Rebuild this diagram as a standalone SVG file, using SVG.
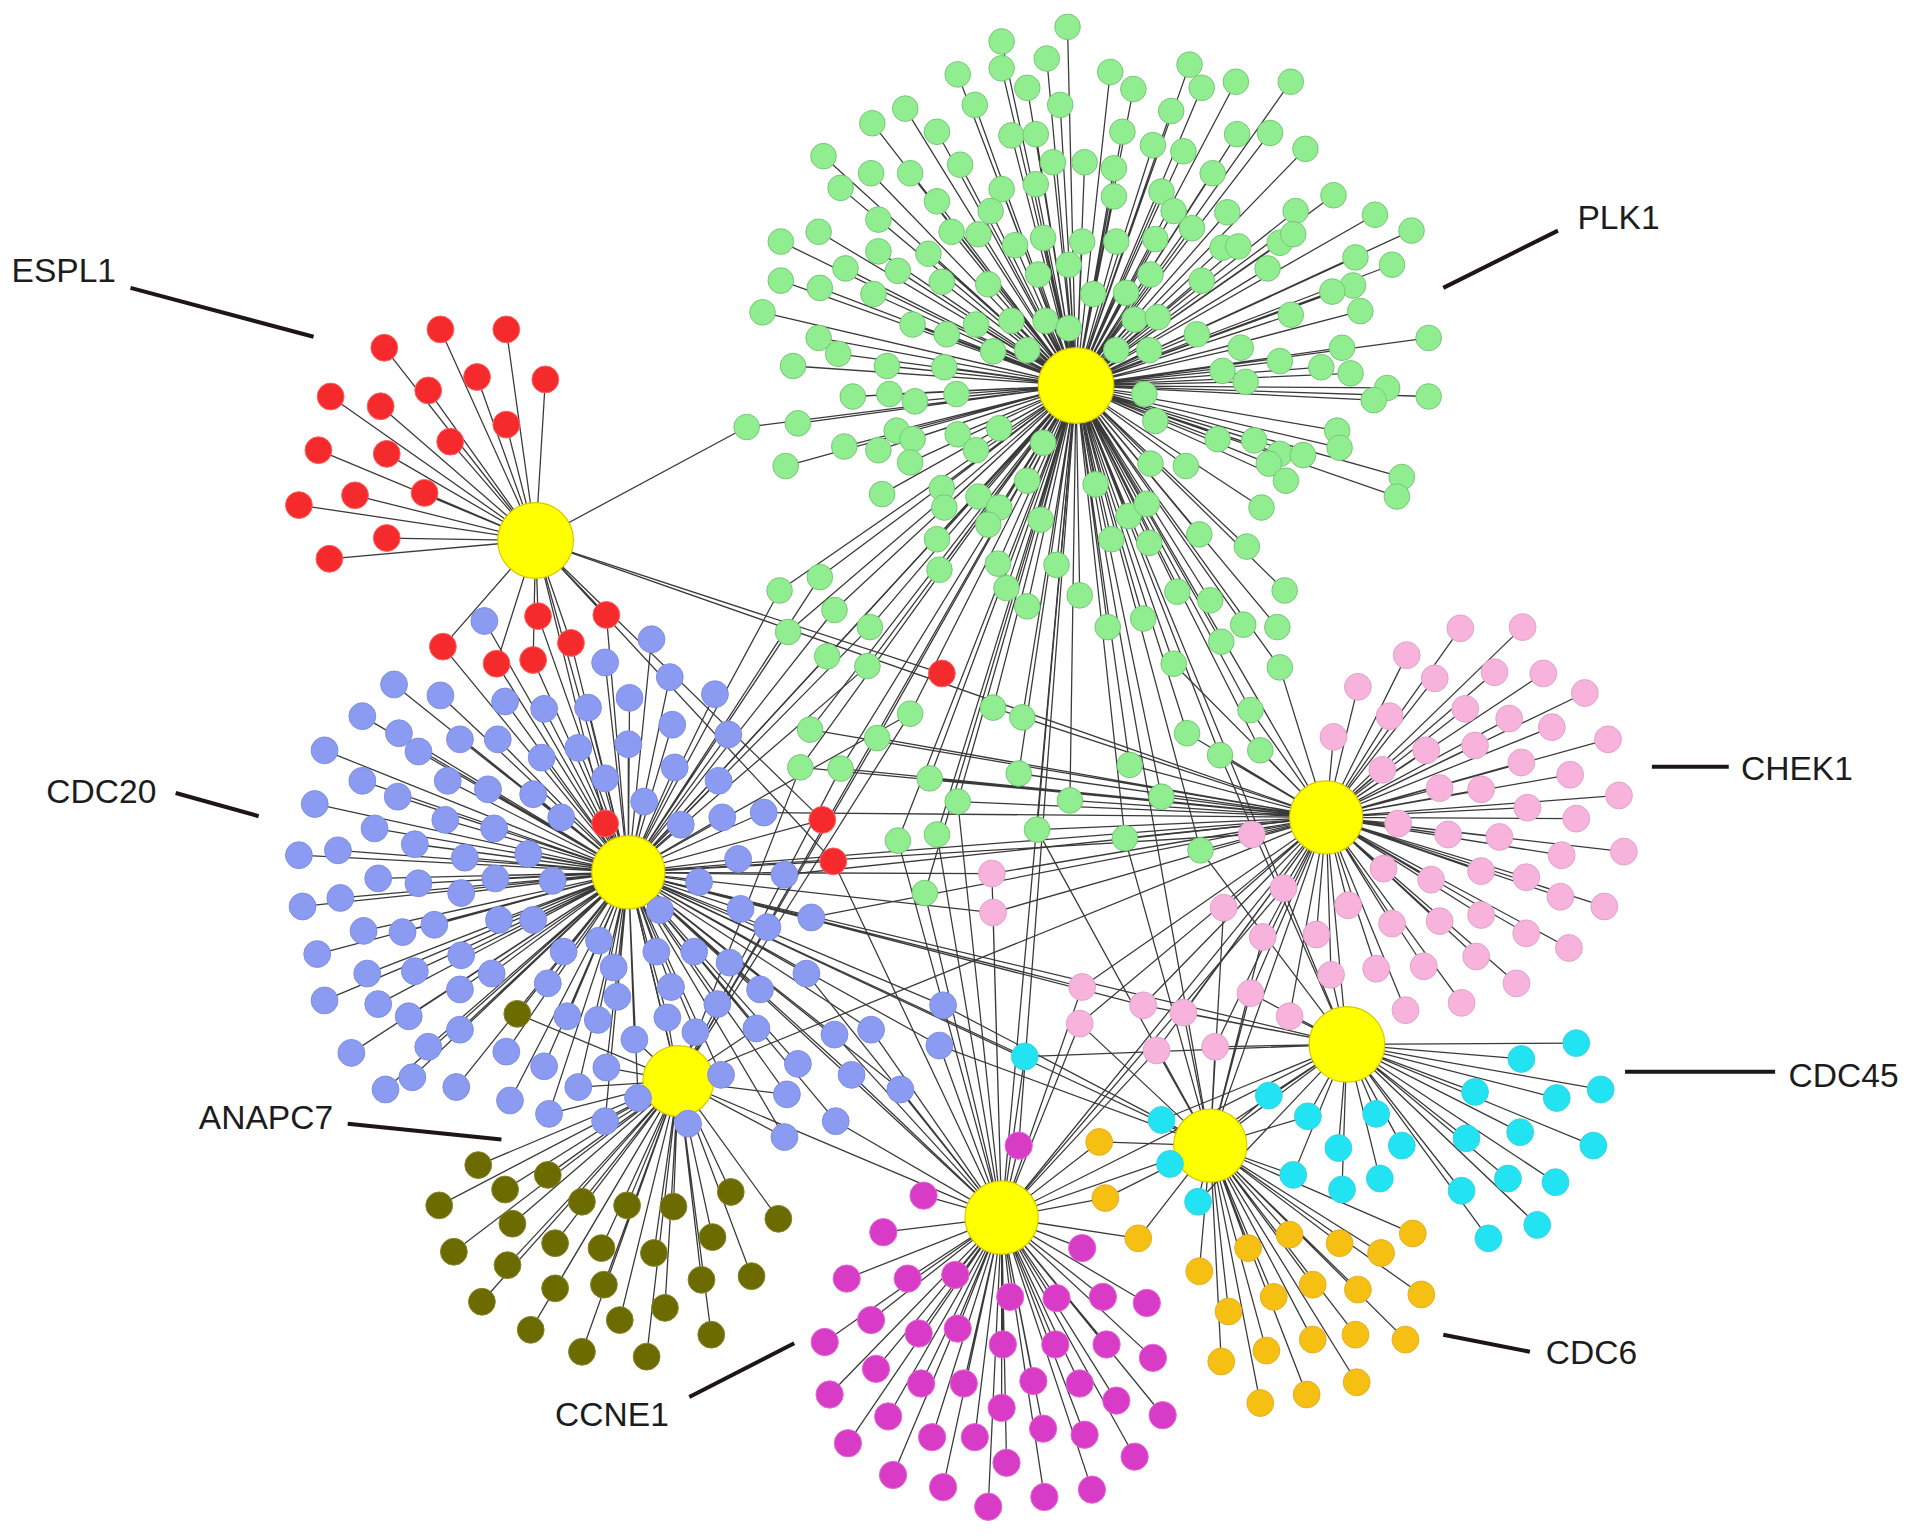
<svg xmlns="http://www.w3.org/2000/svg" width="1913" height="1536" viewBox="0 0 1913 1536">
<style>
.e{stroke:#3a3a3a;stroke-width:1.05;fill:none}
.h circle{fill:#ffff00;stroke:#d9c800;stroke-width:1}
.gr circle{fill:#90ee90;stroke:#76c476;stroke-width:.8;r:10.5px}
.rd circle{fill:#f42a2c;stroke:#ff6060;stroke-width:.8;r:11px}
.bl circle{fill:#8a9bf1;stroke:#7d8ee2;stroke-width:.8;r:11px}
.pk circle{fill:#f7b3dc;stroke:#dda3c9;stroke-width:.8;r:11px}
.ol circle{fill:#6b6b00;stroke:#858530;stroke-width:.8;r:11px}
.cy circle{fill:#21e3f2;stroke:#40d0e0;stroke-width:.8;r:11px}
.mg circle{fill:#d83bc6;stroke:#e26ad6;stroke-width:.8;r:11.2px}
.or circle{fill:#f6c013;stroke:#e2ae2c;stroke-width:.8;r:11px}
.lb{stroke:#1e1515;stroke-width:3.3;fill:none}
.t{font-family:"Liberation Sans",Arial,Helvetica,sans-serif;font-size:27.5px;fill:#1c1c1c}
</style>
<rect width="1913" height="1536" fill="#ffffff"/>
<g transform="scale(1.22002)">
<g id="connectors" class="e">
<path id="e-plk1" d="M875 22L882 316M821 34L882 316M858 48L882 316M821 56L882 316M785 61L882 316M910 59L882 316M975 53L882 316M985 72L882 316M1013 67L882 316M1058 67L882 316M842 72L882 316M929 73L882 316M742 89L882 316M799 86L882 316M869 86L882 316M715 101L882 316M960 91L882 316M768 108L882 316M829 111L882 316M849 110L882 316M920 108L882 316M1014 110L882 316M1041 109L882 316M945 119L882 316M970 124L882 316M1070 122L882 316M675 128L882 316M714 142L882 316M746 142L882 316M787 135L882 316M863 133L882 316M889 133L882 316M913 138L882 316M994 142L882 316M689 154L882 316M821 155L882 316M849 151L882 316M913 161L882 316M952 157L882 316M768 165L882 316M812 173L882 316M962 173L882 316M1062 173L882 316M1093 160L882 316M1006 174L882 316M720 180L882 316M640 198L882 316M671 190L882 316M780 190L882 316M802 192L882 316M832 201L882 316M855 195L882 316M887 198L882 316M915 198L882 316M947 196L882 316M977 187L882 316M1002 203L882 316M1015 202L882 316M1049 199L882 316M1060 192L882 316M1127 176L882 316M1157 189L882 316M720 206L882 316M693 220L882 316M761 208L882 316M736 222L882 316M640 230L882 316M672 236L882 316M716 241L882 316M772 231L882 316M810 233L882 316M851 225L882 316M876 217L882 316M896 241L882 316M923 240L882 316M943 225L882 316M985 230L882 316M1039 220L882 316M1111 211L882 316M1141 217L882 316M1109 234L882 316M1092 239L882 316M625 256L882 316M748 266L882 316M776 274L882 316M800 266L882 316M829 263L882 316M857 263L882 316M876 269L882 316M930 262L882 316M949 260L882 316M981 274L882 316M1058 258L882 316M1115 255L882 316M1171 277L882 316M671 277L882 316M687 290L882 316M727 300L882 316M774 301L882 316M814 288L882 316M842 287L882 316M915 287L882 316M942 287L882 316M1017 285L882 316M1100 285L882 316M1049 296L882 316M1083 301L882 316M1107 306L882 316M1002 304L882 316M1021 313L882 316M650 300L882 316M699 325L882 316M729 323L882 316M750 329L882 316M784 323L882 316M938 323L882 316M1137 318L882 316M1171 325L882 316M1126 328L882 316M612 350L882 316M654 347L882 316M692 366L882 316M720 369L882 316M735 353L882 316M748 360L882 316M746 379L882 316M785 356L882 316M800 369L882 316M819 351L882 316M855 363L882 316M947 345L882 316M998 360L882 316M1028 361L882 316M1049 372L882 316M1068 373L882 316M1040 380L882 316M1096 353L882 316M1098 367L882 316M644 382L882 316M723 405L882 316M772 400L882 316M802 407L882 316M819 416L882 316M842 394L882 316M898 397L882 316M943 380L882 316M972 382L882 316M1054 394L882 316M1149 391L882 316M1145 407L882 316M1034 416L882 316M774 416L882 316M853 426L882 316M810 430L882 316M768 442L882 316M925 423L882 316M940 413L882 316M983 438L882 316M1022 448L882 316M911 442L882 316M942 445L882 316M672 473L882 316M639 484L882 316M770 467L882 316M684 500L882 316M713 514L882 316M646 518L882 316M678 538L882 316M711 546L882 316M825 482L882 316M842 497L882 316M885 488L882 316M818 462L882 316M866 463L882 316M908 514L882 316M937 507L882 316M965 485L882 316M992 492L882 316M1019 512L882 316M1001 526L882 316M962 544L882 316M1047 514L882 316M1049 547L882 316M1025 582L882 316M973 601L882 316M1000 619L882 316M1033 615L882 316M746 585L882 316M814 580L882 316M838 588L882 316M664 598L882 316M719 605L882 316M656 629L882 316M689 630L882 316M762 638L882 316M835 634L882 316M926 627L882 316M785 657L882 316M877 656L882 316M952 653L882 316M736 689L882 316M768 684L882 316M850 680L882 316M922 687L882 316M984 697L882 316M758 732L882 316M1053 484L882 316"/>
<path id="e-green-cross" d="M1025 582L1087 670M973 601L1087 670M1000 619L1087 670M1033 615L1087 670M926 627L1087 670M952 653L1087 670M922 687L1087 670M984 697L1087 670M877 656L1087 670M850 680L1087 670M835 634L1087 670M838 588L1087 670M814 580L1087 670M762 638L1087 670M785 657L1087 670M656 629L1087 670M689 630L1087 670M664 598L1087 670M719 605L1087 670M1049 547L1087 670M962 544L1087 670M639 484L515 715M646 518L515 715M678 538L515 715M711 546L515 715M672 473L515 715M684 500L515 715M713 514L515 715M746 585L515 715M758 732L821 998M736 689L821 998M768 684L821 998M785 657L821 998M656 629L556 886M689 630L556 886M719 605L556 886M746 585L556 886M850 680L992 939M922 687L992 939M984 697L1104 856M1000 619L1104 856"/>
<path id="e-chek1" d="M1197 515L1087 670M1248 514L1087 670M1153 537L1087 670M1113 563L1087 670M1176 556L1087 670M1225 551L1087 670M1265 552L1087 670M1299 568L1087 670M1093 604L1087 670M1139 587L1087 670M1201 581L1087 670M1237 589L1087 670M1272 596L1087 670M1318 606L1087 670M1169 615L1087 670M1209 611L1087 670M1247 625L1087 670M1287 635L1087 670M1133 631L1087 670M1180 646L1087 670M1214 647L1087 670M1252 662L1087 670M1292 671L1087 670M1327 652L1087 670M1146 675L1087 670M1187 684L1087 670M1229 686L1087 670M1280 701L1087 670M1331 698L1087 670M1026 684L1087 670M1134 712L1087 670M1173 721L1087 670M1214 714L1087 670M1251 719L1087 670M1279 735L1087 670M1315 743L1087 670M1052 728L1087 670M1105 742L1087 670M1141 757L1087 670M1180 755L1087 670M1214 750L1087 670M1251 765L1087 670M1286 777L1087 670M1003 744L1087 670M1035 768L1087 670M1079 766L1087 670M1128 794L1087 670M1167 792L1087 670M1210 784L1087 670M1243 806L1087 670M1025 814L1087 670M1091 799L1087 670M1152 828L1087 670M1198 822L1087 670M1057 833L1087 670M813 716L1087 670M814 748L1087 670M887 809L1087 670M885 839L1087 670M937 824L1087 670M970 830L1087 670M948 861L1087 670M996 858L1087 670"/>
<path id="e-pink-cross" d="M813 716L515 715M813 716L821 998M814 748L515 715M814 748L821 998M887 809L821 998M887 809L515 715M885 839L821 998M885 839L992 939M937 824L515 715M937 824L1104 856M970 830L992 939M970 830L1104 856M948 861L992 939M948 861L821 998M996 858L1104 856M996 858L992 939M1003 744L992 939M1035 768L992 939M1025 814L1104 856M1025 814L992 939M1057 833L1104 856M1091 799L1104 856M1026 684L515 715M1052 728L821 998"/>
<path id="e-cdc20" d="M397 509L515 715M534 524L515 715M496 543L515 715M549 555L515 715M323 561L515 715M361 570L515 715M414 575L515 715M446 581L515 715M482 580L515 715M516 572L515 715M586 569L515 715M297 587L515 715M327 601L515 715M377 606L515 715M408 606L515 715M444 621L515 715M474 613L515 715M515 610L515 715M551 594L515 715M597 602L515 715M266 615L515 715M343 616L515 715M297 640L515 715M367 640L515 715M400 647L515 715M437 651L515 715M496 638L515 715M553 629L515 715M589 640L515 715M258 659L515 715M326 653L515 715M365 672L515 715M405 679L515 715M460 670L515 715M528 657L515 715M558 676L515 715M592 670L515 715M626 666L515 715M307 679L515 715M340 692L515 715M245 701L515 715M277 697L515 715M381 703L515 715M433 700L515 715M605 704L515 715M310 720L515 715M343 724L515 715M406 720L515 715M453 722L515 715M573 723L515 715M643 717L515 715M378 732L515 715M248 743L515 715M279 736L515 715M409 754L515 715M437 754L515 715M541 746L515 715M607 745L515 715M629 760L515 715M665 752L515 715M298 763L515 715M330 764L515 715M356 758L515 715M260 782L515 715M378 783L515 715M491 771L515 715M538 780L515 715M569 780L515 715M598 789L515 715M462 780L515 715M301 798L515 715M340 796L515 715M403 798L515 715M503 793L515 715M661 798L515 715M266 820L515 715M310 823L515 715M377 811L515 715M449 806L515 715M506 817L515 715M550 809L515 715M588 823L515 715M623 811L515 715M335 833L515 715M465 833L515 715M490 836L515 715M547 834L515 715M288 863L515 715M351 858L515 715M377 844L515 715M415 862L515 715M520 852L515 715M570 846L515 715M620 843L515 715M316 893L515 715M338 883L515 715M374 891L515 715M418 902L515 715M446 874L515 715M474 891L515 715M497 875L515 715M523 900L515 715M591 881L515 715M654 872L515 715M450 913L515 715M496 919L515 715M564 921L515 715M645 897L515 715M643 932L515 715M684 848L515 715M714 844L515 715M770 857L515 715M773 824L515 715M698 881L515 715M738 893L515 715M685 919L515 715"/>
<path id="e-blue-cross" d="M520 852L556 886M570 846L556 886M591 881L556 886M523 900L556 886M564 921L556 886M496 919L556 886M497 875L556 886M474 891L556 886M547 834L556 886M620 843L556 886M645 897L556 886M643 932L556 886M450 913L556 886M684 848L821 998M714 844L821 998M770 857L821 998M770 857L992 939M773 824L992 939M698 881L821 998M738 893L821 998M685 919L821 998M661 798L821 998M665 752L1087 670M643 717L1087 670M626 666L1087 670"/>
<path id="e-espl1" d="M361 270L439 443M415 270L439 443M315 285L439 443M447 311L439 443M271 325L439 443M312 333L439 443M351 320L439 443M391 309L439 443M415 348L439 443M369 362L439 443M261 369L439 443M317 372L439 443M291 406L439 443M348 404L439 443M245 414L439 443M317 441L439 443M270 458L439 443M363 530L439 443M441 505L439 443M497 504L439 443M468 527L439 443M407 544L439 443M437 541L439 443M772 552L439 443M496 675L439 443M674 672L439 443M683 706L439 443M612 350L439 443"/>
<path id="e-red-cross" d="M363 530L515 715M441 505L515 715M497 504L515 715M468 527L515 715M407 544L515 715M437 541L515 715M674 672L515 715M683 706L515 715M683 706L821 998M496 675L515 715"/>
<path id="e-anapc7" d="M424 831L556 886M392 955L556 886M449 963L556 886M414 975L556 886M360 988L556 886M477 985L556 886M514 988L556 886M552 989L556 886M599 977L556 886M638 999L556 886M420 1003L556 886M372 1026L556 886M455 1019L556 886M493 1023L556 886M536 1027L556 886M584 1014L556 886M416 1037L556 886M616 1046L556 886M455 1056L556 886M495 1053L556 886M575 1049L556 886M395 1067L556 886M508 1082L556 886M545 1072L556 886M435 1090L556 886M477 1108L556 886M530 1112L556 886M583 1094L556 886M424 831L515 715"/>
<path id="e-ccne1" d="M835 939L821 998M757 980L821 998M724 1010L821 998M887 1023L821 998M694 1048L821 998M744 1048L821 998M783 1045L821 998M828 1063L821 998M866 1064L821 998M904 1063L821 998M940 1068L821 998M714 1082L821 998M676 1100L821 998M753 1093L821 998M785 1089L821 998M822 1102L821 998M865 1102L821 998M907 1102L821 998M945 1113L821 998M718 1122L821 998M680 1143L821 998M755 1134L821 998M790 1134L821 998M847 1132L821 998M885 1134L821 998M915 1148L821 998M821 1154L821 998M953 1160L821 998M728 1161L821 998M695 1183L821 998M764 1178L821 998M799 1178L821 998M855 1171L821 998M889 1176L821 998M930 1194L821 998M825 1199L821 998M732 1209L821 998M773 1219L821 998M810 1235L821 998M856 1227L821 998M895 1221L821 998M835 939L882 316"/>
<path id="e-cdc6" d="M901 936L992 939M906 982L992 939M933 1015L992 939M983 1042L992 939M1023 1023L992 939M1057 1012L992 939M1098 1019L992 939M1132 1027L992 939M1158 1011L992 939M1165 1061L992 939M1113 1057L992 939M1076 1053L992 939M1044 1063L992 939M1007 1075L992 939M1001 1116L992 939M1038 1107L992 939M1076 1098L992 939M1111 1094L992 939M1152 1098L992 939M1033 1150L992 939M1071 1143L992 939M1112 1133L992 939M901 936L821 998M906 982L821 998M933 1015L821 998"/>
<path id="e-cdc45" d="M1292 855L1104 856M1247 868L1104 856M1312 893L1104 856M1209 895L1104 856M1276 900L1104 856M1246 928L1104 856M1202 933L1104 856M1306 939L1104 856M1040 898L1104 856M1072 915L1104 856M1128 913L1104 856M1097 941L1104 856M1149 939L1104 856M1236 966L1104 856M1275 969L1104 856M1198 976L1104 856M1060 963L1104 856M1100 975L1104 856M1131 966L1104 856M1260 1004L1104 856M1220 1015L1104 856M982 985L1104 856M959 954L1104 856M952 918L1104 856M840 866L1104 856M982 985L992 939M959 954L992 939M952 918L992 939M1040 898L992 939M1060 963L992 939M1072 915L992 939M840 866L821 998M840 866L515 715"/>
<path id="e-hubs" d="M882 316L515 715M882 316L1087 670M882 316L821 998M882 316L992 939M882 316L1104 856M882 316L556 886M515 715L1087 670M515 715L821 998M515 715L556 886M515 715L992 939M515 715L1104 856M1087 670L1104 856M1087 670L992 939M1087 670L821 998M821 998L992 939M992 939L1104 856M821 998L1104 856M556 886L821 998M439 443L515 715M439 443L1087 670M556 886L1087 670"/>
</g>
<g id="hubs" class="h">
<g id="PLK1-node"><circle cx="882" cy="316" r="31"/></g>
<g id="ESPL1-node"><circle cx="439" cy="443" r="31"/></g>
<g id="CDC20-node"><circle cx="515" cy="715" r="30"/></g>
<g id="CHEK1-node"><circle cx="1087" cy="670" r="30"/></g>
<g id="CDC45-node"><circle cx="1104" cy="856" r="31"/></g>
<g id="ANAPC7-node"><circle cx="556" cy="886" r="29"/></g>
<g id="CCNE1-node"><circle cx="821" cy="998" r="30"/></g>
<g id="CDC6-node"><circle cx="992" cy="939" r="30"/></g>
</g>
<g id="green-nodes" class="gr">
<g id="g1"><circle cx="875" cy="22" r="10.5"/></g><g id="g2"><circle cx="821" cy="34" r="10.5"/></g><g id="g3"><circle cx="858" cy="48" r="10.5"/></g><g id="g4"><circle cx="821" cy="56" r="10.5"/></g><g id="g5"><circle cx="785" cy="61" r="10.5"/></g><g id="g6"><circle cx="910" cy="59" r="10.5"/></g><g id="g7"><circle cx="975" cy="53" r="10.5"/></g><g id="g8"><circle cx="985" cy="72" r="10.5"/></g><g id="g9"><circle cx="1013" cy="67" r="10.5"/></g><g id="g10"><circle cx="1058" cy="67" r="10.5"/></g>
<g id="g11"><circle cx="842" cy="72" r="10.5"/></g><g id="g12"><circle cx="929" cy="73" r="10.5"/></g><g id="g13"><circle cx="742" cy="89" r="10.5"/></g><g id="g14"><circle cx="799" cy="86" r="10.5"/></g><g id="g15"><circle cx="869" cy="86" r="10.5"/></g><g id="g16"><circle cx="715" cy="101" r="10.5"/></g><g id="g17"><circle cx="960" cy="91" r="10.5"/></g><g id="g18"><circle cx="768" cy="108" r="10.5"/></g><g id="g19"><circle cx="829" cy="111" r="10.5"/></g><g id="g20"><circle cx="849" cy="110" r="10.5"/></g>
<g id="g21"><circle cx="920" cy="108" r="10.5"/></g><g id="g22"><circle cx="1014" cy="110" r="10.5"/></g><g id="g23"><circle cx="1041" cy="109" r="10.5"/></g><g id="g24"><circle cx="945" cy="119" r="10.5"/></g><g id="g25"><circle cx="970" cy="124" r="10.5"/></g><g id="g26"><circle cx="1070" cy="122" r="10.5"/></g><g id="g27"><circle cx="675" cy="128" r="10.5"/></g><g id="g28"><circle cx="714" cy="142" r="10.5"/></g><g id="g29"><circle cx="746" cy="142" r="10.5"/></g><g id="g30"><circle cx="787" cy="135" r="10.5"/></g>
<g id="g31"><circle cx="863" cy="133" r="10.5"/></g><g id="g32"><circle cx="889" cy="133" r="10.5"/></g><g id="g33"><circle cx="913" cy="138" r="10.5"/></g><g id="g34"><circle cx="994" cy="142" r="10.5"/></g><g id="g35"><circle cx="689" cy="154" r="10.5"/></g><g id="g36"><circle cx="821" cy="155" r="10.5"/></g><g id="g37"><circle cx="849" cy="151" r="10.5"/></g><g id="g38"><circle cx="913" cy="161" r="10.5"/></g><g id="g39"><circle cx="952" cy="157" r="10.5"/></g><g id="g40"><circle cx="768" cy="165" r="10.5"/></g>
<g id="g41"><circle cx="812" cy="173" r="10.5"/></g><g id="g42"><circle cx="962" cy="173" r="10.5"/></g><g id="g43"><circle cx="1062" cy="173" r="10.5"/></g><g id="g44"><circle cx="1093" cy="160" r="10.5"/></g><g id="g45"><circle cx="1006" cy="174" r="10.5"/></g><g id="g46"><circle cx="720" cy="180" r="10.5"/></g><g id="g47"><circle cx="640" cy="198" r="10.5"/></g><g id="g48"><circle cx="671" cy="190" r="10.5"/></g><g id="g49"><circle cx="780" cy="190" r="10.5"/></g><g id="g50"><circle cx="802" cy="192" r="10.5"/></g>
<g id="g51"><circle cx="832" cy="201" r="10.5"/></g><g id="g52"><circle cx="855" cy="195" r="10.5"/></g><g id="g53"><circle cx="887" cy="198" r="10.5"/></g><g id="g54"><circle cx="915" cy="198" r="10.5"/></g><g id="g55"><circle cx="947" cy="196" r="10.5"/></g><g id="g56"><circle cx="977" cy="187" r="10.5"/></g><g id="g57"><circle cx="1002" cy="203" r="10.5"/></g><g id="g58"><circle cx="1015" cy="202" r="10.5"/></g><g id="g59"><circle cx="1049" cy="199" r="10.5"/></g><g id="g60"><circle cx="1060" cy="192" r="10.5"/></g>
<g id="g61"><circle cx="1127" cy="176" r="10.5"/></g><g id="g62"><circle cx="1157" cy="189" r="10.5"/></g><g id="g63"><circle cx="720" cy="206" r="10.5"/></g><g id="g64"><circle cx="693" cy="220" r="10.5"/></g><g id="g65"><circle cx="761" cy="208" r="10.5"/></g><g id="g66"><circle cx="736" cy="222" r="10.5"/></g><g id="g67"><circle cx="640" cy="230" r="10.5"/></g><g id="g68"><circle cx="672" cy="236" r="10.5"/></g><g id="g69"><circle cx="716" cy="241" r="10.5"/></g><g id="g70"><circle cx="772" cy="231" r="10.5"/></g>
<g id="g71"><circle cx="810" cy="233" r="10.5"/></g><g id="g72"><circle cx="851" cy="225" r="10.5"/></g><g id="g73"><circle cx="876" cy="217" r="10.5"/></g><g id="g74"><circle cx="896" cy="241" r="10.5"/></g><g id="g75"><circle cx="923" cy="240" r="10.5"/></g><g id="g76"><circle cx="943" cy="225" r="10.5"/></g><g id="g77"><circle cx="985" cy="230" r="10.5"/></g><g id="g78"><circle cx="1039" cy="220" r="10.5"/></g><g id="g79"><circle cx="1111" cy="211" r="10.5"/></g><g id="g80"><circle cx="1141" cy="217" r="10.5"/></g>
<g id="g81"><circle cx="1109" cy="234" r="10.5"/></g><g id="g82"><circle cx="1092" cy="239" r="10.5"/></g><g id="g83"><circle cx="625" cy="256" r="10.5"/></g><g id="g84"><circle cx="748" cy="266" r="10.5"/></g><g id="g85"><circle cx="776" cy="274" r="10.5"/></g><g id="g86"><circle cx="800" cy="266" r="10.5"/></g><g id="g87"><circle cx="829" cy="263" r="10.5"/></g><g id="g88"><circle cx="857" cy="263" r="10.5"/></g><g id="g89"><circle cx="876" cy="269" r="10.5"/></g><g id="g90"><circle cx="930" cy="262" r="10.5"/></g>
<g id="g91"><circle cx="949" cy="260" r="10.5"/></g><g id="g92"><circle cx="981" cy="274" r="10.5"/></g><g id="g93"><circle cx="1058" cy="258" r="10.5"/></g><g id="g94"><circle cx="1115" cy="255" r="10.5"/></g><g id="g95"><circle cx="1171" cy="277" r="10.5"/></g><g id="g96"><circle cx="671" cy="277" r="10.5"/></g><g id="g97"><circle cx="687" cy="290" r="10.5"/></g><g id="g98"><circle cx="727" cy="300" r="10.5"/></g><g id="g99"><circle cx="774" cy="301" r="10.5"/></g><g id="g100"><circle cx="814" cy="288" r="10.5"/></g>
<g id="g101"><circle cx="842" cy="287" r="10.5"/></g><g id="g102"><circle cx="915" cy="287" r="10.5"/></g><g id="g103"><circle cx="942" cy="287" r="10.5"/></g><g id="g104"><circle cx="1017" cy="285" r="10.5"/></g><g id="g105"><circle cx="1100" cy="285" r="10.5"/></g><g id="g106"><circle cx="1049" cy="296" r="10.5"/></g><g id="g107"><circle cx="1083" cy="301" r="10.5"/></g><g id="g108"><circle cx="1107" cy="306" r="10.5"/></g><g id="g109"><circle cx="1002" cy="304" r="10.5"/></g><g id="g110"><circle cx="1021" cy="313" r="10.5"/></g>
<g id="g111"><circle cx="650" cy="300" r="10.5"/></g><g id="g112"><circle cx="699" cy="325" r="10.5"/></g><g id="g113"><circle cx="729" cy="323" r="10.5"/></g><g id="g114"><circle cx="750" cy="329" r="10.5"/></g><g id="g115"><circle cx="784" cy="323" r="10.5"/></g><g id="g116"><circle cx="938" cy="323" r="10.5"/></g><g id="g117"><circle cx="1137" cy="318" r="10.5"/></g><g id="g118"><circle cx="1171" cy="325" r="10.5"/></g><g id="g119"><circle cx="1126" cy="328" r="10.5"/></g><g id="g120"><circle cx="612" cy="350" r="10.5"/></g>
<g id="g121"><circle cx="654" cy="347" r="10.5"/></g><g id="g122"><circle cx="692" cy="366" r="10.5"/></g><g id="g123"><circle cx="720" cy="369" r="10.5"/></g><g id="g124"><circle cx="735" cy="353" r="10.5"/></g><g id="g125"><circle cx="748" cy="360" r="10.5"/></g><g id="g126"><circle cx="746" cy="379" r="10.5"/></g><g id="g127"><circle cx="785" cy="356" r="10.5"/></g><g id="g128"><circle cx="800" cy="369" r="10.5"/></g><g id="g129"><circle cx="819" cy="351" r="10.5"/></g><g id="g130"><circle cx="855" cy="363" r="10.5"/></g>
<g id="g131"><circle cx="947" cy="345" r="10.5"/></g><g id="g132"><circle cx="998" cy="360" r="10.5"/></g><g id="g133"><circle cx="1028" cy="361" r="10.5"/></g><g id="g134"><circle cx="1049" cy="372" r="10.5"/></g><g id="g135"><circle cx="1068" cy="373" r="10.5"/></g><g id="g136"><circle cx="1040" cy="380" r="10.5"/></g><g id="g137"><circle cx="1096" cy="353" r="10.5"/></g><g id="g138"><circle cx="1098" cy="367" r="10.5"/></g><g id="g139"><circle cx="644" cy="382" r="10.5"/></g><g id="g140"><circle cx="723" cy="405" r="10.5"/></g>
<g id="g141"><circle cx="772" cy="400" r="10.5"/></g><g id="g142"><circle cx="802" cy="407" r="10.5"/></g><g id="g143"><circle cx="819" cy="416" r="10.5"/></g><g id="g144"><circle cx="842" cy="394" r="10.5"/></g><g id="g145"><circle cx="898" cy="397" r="10.5"/></g><g id="g146"><circle cx="943" cy="380" r="10.5"/></g><g id="g147"><circle cx="972" cy="382" r="10.5"/></g><g id="g148"><circle cx="1054" cy="394" r="10.5"/></g><g id="g149"><circle cx="1149" cy="391" r="10.5"/></g><g id="g150"><circle cx="1145" cy="407" r="10.5"/></g>
<g id="g151"><circle cx="1034" cy="416" r="10.5"/></g><g id="g152"><circle cx="774" cy="416" r="10.5"/></g><g id="g153"><circle cx="853" cy="426" r="10.5"/></g><g id="g154"><circle cx="810" cy="430" r="10.5"/></g><g id="g155"><circle cx="768" cy="442" r="10.5"/></g><g id="g156"><circle cx="925" cy="423" r="10.5"/></g><g id="g157"><circle cx="940" cy="413" r="10.5"/></g><g id="g158"><circle cx="983" cy="438" r="10.5"/></g><g id="g159"><circle cx="1022" cy="448" r="10.5"/></g><g id="g160"><circle cx="911" cy="442" r="10.5"/></g>
<g id="g161"><circle cx="942" cy="445" r="10.5"/></g><g id="g162"><circle cx="672" cy="473" r="10.5"/></g><g id="g163"><circle cx="639" cy="484" r="10.5"/></g><g id="g164"><circle cx="770" cy="467" r="10.5"/></g><g id="g165"><circle cx="684" cy="500" r="10.5"/></g><g id="g166"><circle cx="713" cy="514" r="10.5"/></g><g id="g167"><circle cx="646" cy="518" r="10.5"/></g><g id="g168"><circle cx="678" cy="538" r="10.5"/></g><g id="g169"><circle cx="711" cy="546" r="10.5"/></g><g id="g170"><circle cx="825" cy="482" r="10.5"/></g>
<g id="g171"><circle cx="842" cy="497" r="10.5"/></g><g id="g172"><circle cx="885" cy="488" r="10.5"/></g><g id="g173"><circle cx="818" cy="462" r="10.5"/></g><g id="g174"><circle cx="866" cy="463" r="10.5"/></g><g id="g175"><circle cx="908" cy="514" r="10.5"/></g><g id="g176"><circle cx="937" cy="507" r="10.5"/></g><g id="g177"><circle cx="965" cy="485" r="10.5"/></g><g id="g178"><circle cx="992" cy="492" r="10.5"/></g><g id="g179"><circle cx="1019" cy="512" r="10.5"/></g><g id="g180"><circle cx="1001" cy="526" r="10.5"/></g>
<g id="g181"><circle cx="962" cy="544" r="10.5"/></g><g id="g182"><circle cx="1047" cy="514" r="10.5"/></g><g id="g183"><circle cx="1049" cy="547" r="10.5"/></g><g id="g184"><circle cx="1025" cy="582" r="10.5"/></g><g id="g185"><circle cx="973" cy="601" r="10.5"/></g><g id="g186"><circle cx="1000" cy="619" r="10.5"/></g><g id="g187"><circle cx="1033" cy="615" r="10.5"/></g><g id="g188"><circle cx="746" cy="585" r="10.5"/></g><g id="g189"><circle cx="814" cy="580" r="10.5"/></g><g id="g190"><circle cx="838" cy="588" r="10.5"/></g>
<g id="g191"><circle cx="664" cy="598" r="10.5"/></g><g id="g192"><circle cx="719" cy="605" r="10.5"/></g><g id="g193"><circle cx="656" cy="629" r="10.5"/></g><g id="g194"><circle cx="689" cy="630" r="10.5"/></g><g id="g195"><circle cx="762" cy="638" r="10.5"/></g><g id="g196"><circle cx="835" cy="634" r="10.5"/></g><g id="g197"><circle cx="926" cy="627" r="10.5"/></g><g id="g198"><circle cx="785" cy="657" r="10.5"/></g><g id="g199"><circle cx="877" cy="656" r="10.5"/></g><g id="g200"><circle cx="952" cy="653" r="10.5"/></g>
<g id="g201"><circle cx="736" cy="689" r="10.5"/></g><g id="g202"><circle cx="768" cy="684" r="10.5"/></g><g id="g203"><circle cx="850" cy="680" r="10.5"/></g><g id="g204"><circle cx="922" cy="687" r="10.5"/></g><g id="g205"><circle cx="984" cy="697" r="10.5"/></g><g id="g206"><circle cx="758" cy="732" r="10.5"/></g><g id="g207"><circle cx="1053" cy="484" r="10.5"/></g>
</g>
<g id="red-nodes" class="rd">
<g id="r1"><circle cx="361" cy="270" r="11"/></g><g id="r2"><circle cx="415" cy="270" r="11"/></g><g id="r3"><circle cx="315" cy="285" r="11"/></g><g id="r4"><circle cx="447" cy="311" r="11"/></g><g id="r5"><circle cx="271" cy="325" r="11"/></g><g id="r6"><circle cx="312" cy="333" r="11"/></g><g id="r7"><circle cx="351" cy="320" r="11"/></g><g id="r8"><circle cx="391" cy="309" r="11"/></g><g id="r9"><circle cx="415" cy="348" r="11"/></g><g id="r10"><circle cx="369" cy="362" r="11"/></g>
<g id="r11"><circle cx="261" cy="369" r="11"/></g><g id="r12"><circle cx="317" cy="372" r="11"/></g><g id="r13"><circle cx="291" cy="406" r="11"/></g><g id="r14"><circle cx="348" cy="404" r="11"/></g><g id="r15"><circle cx="245" cy="414" r="11"/></g><g id="r16"><circle cx="317" cy="441" r="11"/></g><g id="r17"><circle cx="270" cy="458" r="11"/></g><g id="r18"><circle cx="363" cy="530" r="11"/></g><g id="r19"><circle cx="441" cy="505" r="11"/></g><g id="r20"><circle cx="497" cy="504" r="11"/></g>
<g id="r21"><circle cx="468" cy="527" r="11"/></g><g id="r22"><circle cx="407" cy="544" r="11"/></g><g id="r23"><circle cx="437" cy="541" r="11"/></g><g id="r24"><circle cx="772" cy="552" r="11"/></g><g id="r25"><circle cx="496" cy="675" r="11"/></g><g id="r26"><circle cx="674" cy="672" r="11"/></g><g id="r27"><circle cx="683" cy="706" r="11"/></g>
</g>
<g id="blue-nodes" class="bl">
<g id="b1"><circle cx="397" cy="509" r="11"/></g><g id="b2"><circle cx="534" cy="524" r="11"/></g><g id="b3"><circle cx="496" cy="543" r="11"/></g><g id="b4"><circle cx="549" cy="555" r="11"/></g><g id="b5"><circle cx="323" cy="561" r="11"/></g><g id="b6"><circle cx="361" cy="570" r="11"/></g><g id="b7"><circle cx="414" cy="575" r="11"/></g><g id="b8"><circle cx="446" cy="581" r="11"/></g><g id="b9"><circle cx="482" cy="580" r="11"/></g><g id="b10"><circle cx="516" cy="572" r="11"/></g>
<g id="b11"><circle cx="586" cy="569" r="11"/></g><g id="b12"><circle cx="297" cy="587" r="11"/></g><g id="b13"><circle cx="327" cy="601" r="11"/></g><g id="b14"><circle cx="377" cy="606" r="11"/></g><g id="b15"><circle cx="408" cy="606" r="11"/></g><g id="b16"><circle cx="444" cy="621" r="11"/></g><g id="b17"><circle cx="474" cy="613" r="11"/></g><g id="b18"><circle cx="515" cy="610" r="11"/></g><g id="b19"><circle cx="551" cy="594" r="11"/></g><g id="b20"><circle cx="597" cy="602" r="11"/></g>
<g id="b21"><circle cx="266" cy="615" r="11"/></g><g id="b22"><circle cx="343" cy="616" r="11"/></g><g id="b23"><circle cx="297" cy="640" r="11"/></g><g id="b24"><circle cx="367" cy="640" r="11"/></g><g id="b25"><circle cx="400" cy="647" r="11"/></g><g id="b26"><circle cx="437" cy="651" r="11"/></g><g id="b27"><circle cx="496" cy="638" r="11"/></g><g id="b28"><circle cx="553" cy="629" r="11"/></g><g id="b29"><circle cx="589" cy="640" r="11"/></g><g id="b30"><circle cx="258" cy="659" r="11"/></g>
<g id="b31"><circle cx="326" cy="653" r="11"/></g><g id="b32"><circle cx="365" cy="672" r="11"/></g><g id="b33"><circle cx="405" cy="679" r="11"/></g><g id="b34"><circle cx="460" cy="670" r="11"/></g><g id="b35"><circle cx="528" cy="657" r="11"/></g><g id="b36"><circle cx="558" cy="676" r="11"/></g><g id="b37"><circle cx="592" cy="670" r="11"/></g><g id="b38"><circle cx="626" cy="666" r="11"/></g><g id="b39"><circle cx="307" cy="679" r="11"/></g><g id="b40"><circle cx="340" cy="692" r="11"/></g>
<g id="b41"><circle cx="245" cy="701" r="11"/></g><g id="b42"><circle cx="277" cy="697" r="11"/></g><g id="b43"><circle cx="381" cy="703" r="11"/></g><g id="b44"><circle cx="433" cy="700" r="11"/></g><g id="b45"><circle cx="605" cy="704" r="11"/></g><g id="b46"><circle cx="310" cy="720" r="11"/></g><g id="b47"><circle cx="343" cy="724" r="11"/></g><g id="b48"><circle cx="406" cy="720" r="11"/></g><g id="b49"><circle cx="453" cy="722" r="11"/></g><g id="b50"><circle cx="573" cy="723" r="11"/></g>
<g id="b51"><circle cx="643" cy="717" r="11"/></g><g id="b52"><circle cx="378" cy="732" r="11"/></g><g id="b53"><circle cx="248" cy="743" r="11"/></g><g id="b54"><circle cx="279" cy="736" r="11"/></g><g id="b55"><circle cx="409" cy="754" r="11"/></g><g id="b56"><circle cx="437" cy="754" r="11"/></g><g id="b57"><circle cx="541" cy="746" r="11"/></g><g id="b58"><circle cx="607" cy="745" r="11"/></g><g id="b59"><circle cx="629" cy="760" r="11"/></g><g id="b60"><circle cx="665" cy="752" r="11"/></g>
<g id="b61"><circle cx="298" cy="763" r="11"/></g><g id="b62"><circle cx="330" cy="764" r="11"/></g><g id="b63"><circle cx="356" cy="758" r="11"/></g><g id="b64"><circle cx="260" cy="782" r="11"/></g><g id="b65"><circle cx="378" cy="783" r="11"/></g><g id="b66"><circle cx="491" cy="771" r="11"/></g><g id="b67"><circle cx="538" cy="780" r="11"/></g><g id="b68"><circle cx="569" cy="780" r="11"/></g><g id="b69"><circle cx="598" cy="789" r="11"/></g><g id="b70"><circle cx="462" cy="780" r="11"/></g>
<g id="b71"><circle cx="301" cy="798" r="11"/></g><g id="b72"><circle cx="340" cy="796" r="11"/></g><g id="b73"><circle cx="403" cy="798" r="11"/></g><g id="b74"><circle cx="503" cy="793" r="11"/></g><g id="b75"><circle cx="661" cy="798" r="11"/></g><g id="b76"><circle cx="266" cy="820" r="11"/></g><g id="b77"><circle cx="310" cy="823" r="11"/></g><g id="b78"><circle cx="377" cy="811" r="11"/></g><g id="b79"><circle cx="449" cy="806" r="11"/></g><g id="b80"><circle cx="506" cy="817" r="11"/></g>
<g id="b81"><circle cx="550" cy="809" r="11"/></g><g id="b82"><circle cx="588" cy="823" r="11"/></g><g id="b83"><circle cx="623" cy="811" r="11"/></g><g id="b84"><circle cx="335" cy="833" r="11"/></g><g id="b85"><circle cx="465" cy="833" r="11"/></g><g id="b86"><circle cx="490" cy="836" r="11"/></g><g id="b87"><circle cx="547" cy="834" r="11"/></g><g id="b88"><circle cx="288" cy="863" r="11"/></g><g id="b89"><circle cx="351" cy="858" r="11"/></g><g id="b90"><circle cx="377" cy="844" r="11"/></g>
<g id="b91"><circle cx="415" cy="862" r="11"/></g><g id="b92"><circle cx="520" cy="852" r="11"/></g><g id="b93"><circle cx="570" cy="846" r="11"/></g><g id="b94"><circle cx="620" cy="843" r="11"/></g><g id="b95"><circle cx="316" cy="893" r="11"/></g><g id="b96"><circle cx="338" cy="883" r="11"/></g><g id="b97"><circle cx="374" cy="891" r="11"/></g><g id="b98"><circle cx="418" cy="902" r="11"/></g><g id="b99"><circle cx="446" cy="874" r="11"/></g><g id="b100"><circle cx="474" cy="891" r="11"/></g>
<g id="b101"><circle cx="497" cy="875" r="11"/></g><g id="b102"><circle cx="523" cy="900" r="11"/></g><g id="b103"><circle cx="591" cy="881" r="11"/></g><g id="b104"><circle cx="654" cy="872" r="11"/></g><g id="b105"><circle cx="450" cy="913" r="11"/></g><g id="b106"><circle cx="496" cy="919" r="11"/></g><g id="b107"><circle cx="564" cy="921" r="11"/></g><g id="b108"><circle cx="645" cy="897" r="11"/></g><g id="b109"><circle cx="643" cy="932" r="11"/></g><g id="b110"><circle cx="684" cy="848" r="11"/></g>
<g id="b111"><circle cx="714" cy="844" r="11"/></g><g id="b112"><circle cx="770" cy="857" r="11"/></g><g id="b113"><circle cx="773" cy="824" r="11"/></g><g id="b114"><circle cx="698" cy="881" r="11"/></g><g id="b115"><circle cx="738" cy="893" r="11"/></g><g id="b116"><circle cx="685" cy="919" r="11"/></g>
</g>
<g id="pink-nodes" class="pk">
<g id="p1"><circle cx="1197" cy="515" r="11"/></g><g id="p2"><circle cx="1248" cy="514" r="11"/></g><g id="p3"><circle cx="1153" cy="537" r="11"/></g><g id="p4"><circle cx="1113" cy="563" r="11"/></g><g id="p5"><circle cx="1176" cy="556" r="11"/></g><g id="p6"><circle cx="1225" cy="551" r="11"/></g><g id="p7"><circle cx="1265" cy="552" r="11"/></g><g id="p8"><circle cx="1299" cy="568" r="11"/></g><g id="p9"><circle cx="1093" cy="604" r="11"/></g><g id="p10"><circle cx="1139" cy="587" r="11"/></g>
<g id="p11"><circle cx="1201" cy="581" r="11"/></g><g id="p12"><circle cx="1237" cy="589" r="11"/></g><g id="p13"><circle cx="1272" cy="596" r="11"/></g><g id="p14"><circle cx="1318" cy="606" r="11"/></g><g id="p15"><circle cx="1169" cy="615" r="11"/></g><g id="p16"><circle cx="1209" cy="611" r="11"/></g><g id="p17"><circle cx="1247" cy="625" r="11"/></g><g id="p18"><circle cx="1287" cy="635" r="11"/></g><g id="p19"><circle cx="1133" cy="631" r="11"/></g><g id="p20"><circle cx="1180" cy="646" r="11"/></g>
<g id="p21"><circle cx="1214" cy="647" r="11"/></g><g id="p22"><circle cx="1252" cy="662" r="11"/></g><g id="p23"><circle cx="1292" cy="671" r="11"/></g><g id="p24"><circle cx="1327" cy="652" r="11"/></g><g id="p25"><circle cx="1146" cy="675" r="11"/></g><g id="p26"><circle cx="1187" cy="684" r="11"/></g><g id="p27"><circle cx="1229" cy="686" r="11"/></g><g id="p28"><circle cx="1280" cy="701" r="11"/></g><g id="p29"><circle cx="1331" cy="698" r="11"/></g><g id="p30"><circle cx="1026" cy="684" r="11"/></g>
<g id="p31"><circle cx="1134" cy="712" r="11"/></g><g id="p32"><circle cx="1173" cy="721" r="11"/></g><g id="p33"><circle cx="1214" cy="714" r="11"/></g><g id="p34"><circle cx="1251" cy="719" r="11"/></g><g id="p35"><circle cx="1279" cy="735" r="11"/></g><g id="p36"><circle cx="1315" cy="743" r="11"/></g><g id="p37"><circle cx="1052" cy="728" r="11"/></g><g id="p38"><circle cx="1105" cy="742" r="11"/></g><g id="p39"><circle cx="1141" cy="757" r="11"/></g><g id="p40"><circle cx="1180" cy="755" r="11"/></g>
<g id="p41"><circle cx="1214" cy="750" r="11"/></g><g id="p42"><circle cx="1251" cy="765" r="11"/></g><g id="p43"><circle cx="1286" cy="777" r="11"/></g><g id="p44"><circle cx="1003" cy="744" r="11"/></g><g id="p45"><circle cx="1035" cy="768" r="11"/></g><g id="p46"><circle cx="1079" cy="766" r="11"/></g><g id="p47"><circle cx="1128" cy="794" r="11"/></g><g id="p48"><circle cx="1167" cy="792" r="11"/></g><g id="p49"><circle cx="1210" cy="784" r="11"/></g><g id="p50"><circle cx="1243" cy="806" r="11"/></g>
<g id="p51"><circle cx="1025" cy="814" r="11"/></g><g id="p52"><circle cx="1091" cy="799" r="11"/></g><g id="p53"><circle cx="1152" cy="828" r="11"/></g><g id="p54"><circle cx="1198" cy="822" r="11"/></g><g id="p55"><circle cx="1057" cy="833" r="11"/></g><g id="p56"><circle cx="813" cy="716" r="11"/></g><g id="p57"><circle cx="814" cy="748" r="11"/></g><g id="p58"><circle cx="887" cy="809" r="11"/></g><g id="p59"><circle cx="885" cy="839" r="11"/></g><g id="p60"><circle cx="937" cy="824" r="11"/></g>
<g id="p61"><circle cx="970" cy="830" r="11"/></g><g id="p62"><circle cx="948" cy="861" r="11"/></g><g id="p63"><circle cx="996" cy="858" r="11"/></g>
</g>
<g id="olive-nodes" class="ol">
<g id="o1"><circle cx="424" cy="831" r="11"/></g><g id="o2"><circle cx="392" cy="955" r="11"/></g><g id="o3"><circle cx="449" cy="963" r="11"/></g><g id="o4"><circle cx="414" cy="975" r="11"/></g><g id="o5"><circle cx="360" cy="988" r="11"/></g><g id="o6"><circle cx="477" cy="985" r="11"/></g><g id="o7"><circle cx="514" cy="988" r="11"/></g><g id="o8"><circle cx="552" cy="989" r="11"/></g><g id="o9"><circle cx="599" cy="977" r="11"/></g><g id="o10"><circle cx="638" cy="999" r="11"/></g>
<g id="o11"><circle cx="420" cy="1003" r="11"/></g><g id="o12"><circle cx="372" cy="1026" r="11"/></g><g id="o13"><circle cx="455" cy="1019" r="11"/></g><g id="o14"><circle cx="493" cy="1023" r="11"/></g><g id="o15"><circle cx="536" cy="1027" r="11"/></g><g id="o16"><circle cx="584" cy="1014" r="11"/></g><g id="o17"><circle cx="416" cy="1037" r="11"/></g><g id="o18"><circle cx="616" cy="1046" r="11"/></g><g id="o19"><circle cx="455" cy="1056" r="11"/></g><g id="o20"><circle cx="495" cy="1053" r="11"/></g>
<g id="o21"><circle cx="575" cy="1049" r="11"/></g><g id="o22"><circle cx="395" cy="1067" r="11"/></g><g id="o23"><circle cx="508" cy="1082" r="11"/></g><g id="o24"><circle cx="545" cy="1072" r="11"/></g><g id="o25"><circle cx="435" cy="1090" r="11"/></g><g id="o26"><circle cx="477" cy="1108" r="11"/></g><g id="o27"><circle cx="530" cy="1112" r="11"/></g><g id="o28"><circle cx="583" cy="1094" r="11"/></g>
</g>
<g id="magenta-nodes" class="mg">
<g id="m1"><circle cx="835" cy="939" r="11.2"/></g><g id="m2"><circle cx="757" cy="980" r="11.2"/></g><g id="m3"><circle cx="724" cy="1010" r="11.2"/></g><g id="m4"><circle cx="887" cy="1023" r="11.2"/></g><g id="m5"><circle cx="694" cy="1048" r="11.2"/></g><g id="m6"><circle cx="744" cy="1048" r="11.2"/></g><g id="m7"><circle cx="783" cy="1045" r="11.2"/></g><g id="m8"><circle cx="828" cy="1063" r="11.2"/></g><g id="m9"><circle cx="866" cy="1064" r="11.2"/></g><g id="m10"><circle cx="904" cy="1063" r="11.2"/></g>
<g id="m11"><circle cx="940" cy="1068" r="11.2"/></g><g id="m12"><circle cx="714" cy="1082" r="11.2"/></g><g id="m13"><circle cx="676" cy="1100" r="11.2"/></g><g id="m14"><circle cx="753" cy="1093" r="11.2"/></g><g id="m15"><circle cx="785" cy="1089" r="11.2"/></g><g id="m16"><circle cx="822" cy="1102" r="11.2"/></g><g id="m17"><circle cx="865" cy="1102" r="11.2"/></g><g id="m18"><circle cx="907" cy="1102" r="11.2"/></g><g id="m19"><circle cx="945" cy="1113" r="11.2"/></g><g id="m20"><circle cx="718" cy="1122" r="11.2"/></g>
<g id="m21"><circle cx="680" cy="1143" r="11.2"/></g><g id="m22"><circle cx="755" cy="1134" r="11.2"/></g><g id="m23"><circle cx="790" cy="1134" r="11.2"/></g><g id="m24"><circle cx="847" cy="1132" r="11.2"/></g><g id="m25"><circle cx="885" cy="1134" r="11.2"/></g><g id="m26"><circle cx="915" cy="1148" r="11.2"/></g><g id="m27"><circle cx="821" cy="1154" r="11.2"/></g><g id="m28"><circle cx="953" cy="1160" r="11.2"/></g><g id="m29"><circle cx="728" cy="1161" r="11.2"/></g><g id="m30"><circle cx="695" cy="1183" r="11.2"/></g>
<g id="m31"><circle cx="764" cy="1178" r="11.2"/></g><g id="m32"><circle cx="799" cy="1178" r="11.2"/></g><g id="m33"><circle cx="855" cy="1171" r="11.2"/></g><g id="m34"><circle cx="889" cy="1176" r="11.2"/></g><g id="m35"><circle cx="930" cy="1194" r="11.2"/></g><g id="m36"><circle cx="825" cy="1199" r="11.2"/></g><g id="m37"><circle cx="732" cy="1209" r="11.2"/></g><g id="m38"><circle cx="773" cy="1219" r="11.2"/></g><g id="m39"><circle cx="810" cy="1235" r="11.2"/></g><g id="m40"><circle cx="856" cy="1227" r="11.2"/></g>
<g id="m41"><circle cx="895" cy="1221" r="11.2"/></g>
</g>
<g id="orange-nodes" class="or">
<g id="y1"><circle cx="901" cy="936" r="11"/></g><g id="y2"><circle cx="906" cy="982" r="11"/></g><g id="y3"><circle cx="933" cy="1015" r="11"/></g><g id="y4"><circle cx="983" cy="1042" r="11"/></g><g id="y5"><circle cx="1023" cy="1023" r="11"/></g><g id="y6"><circle cx="1057" cy="1012" r="11"/></g><g id="y7"><circle cx="1098" cy="1019" r="11"/></g><g id="y8"><circle cx="1132" cy="1027" r="11"/></g><g id="y9"><circle cx="1158" cy="1011" r="11"/></g><g id="y10"><circle cx="1165" cy="1061" r="11"/></g>
<g id="y11"><circle cx="1113" cy="1057" r="11"/></g><g id="y12"><circle cx="1076" cy="1053" r="11"/></g><g id="y13"><circle cx="1044" cy="1063" r="11"/></g><g id="y14"><circle cx="1007" cy="1075" r="11"/></g><g id="y15"><circle cx="1001" cy="1116" r="11"/></g><g id="y16"><circle cx="1038" cy="1107" r="11"/></g><g id="y17"><circle cx="1076" cy="1098" r="11"/></g><g id="y18"><circle cx="1111" cy="1094" r="11"/></g><g id="y19"><circle cx="1152" cy="1098" r="11"/></g><g id="y20"><circle cx="1033" cy="1150" r="11"/></g>
<g id="y21"><circle cx="1071" cy="1143" r="11"/></g><g id="y22"><circle cx="1112" cy="1133" r="11"/></g>
</g>
<g id="cyan-nodes" class="cy">
<g id="c1"><circle cx="1292" cy="855" r="11"/></g><g id="c2"><circle cx="1247" cy="868" r="11"/></g><g id="c3"><circle cx="1312" cy="893" r="11"/></g><g id="c4"><circle cx="1209" cy="895" r="11"/></g><g id="c5"><circle cx="1276" cy="900" r="11"/></g><g id="c6"><circle cx="1246" cy="928" r="11"/></g><g id="c7"><circle cx="1202" cy="933" r="11"/></g><g id="c8"><circle cx="1306" cy="939" r="11"/></g><g id="c9"><circle cx="1040" cy="898" r="11"/></g><g id="c10"><circle cx="1072" cy="915" r="11"/></g>
<g id="c11"><circle cx="1128" cy="913" r="11"/></g><g id="c12"><circle cx="1097" cy="941" r="11"/></g><g id="c13"><circle cx="1149" cy="939" r="11"/></g><g id="c14"><circle cx="1236" cy="966" r="11"/></g><g id="c15"><circle cx="1275" cy="969" r="11"/></g><g id="c16"><circle cx="1198" cy="976" r="11"/></g><g id="c17"><circle cx="1060" cy="963" r="11"/></g><g id="c18"><circle cx="1100" cy="975" r="11"/></g><g id="c19"><circle cx="1131" cy="966" r="11"/></g><g id="c20"><circle cx="1260" cy="1004" r="11"/></g>
<g id="c21"><circle cx="1220" cy="1015" r="11"/></g><g id="c22"><circle cx="982" cy="985" r="11"/></g><g id="c23"><circle cx="959" cy="954" r="11"/></g><g id="c24"><circle cx="952" cy="918" r="11"/></g><g id="c25"><circle cx="840" cy="866" r="11"/></g>
</g>
<g id="labels">
<g id="label-ESPL1"><line class="lb" x1="107" y1="236" x2="257" y2="276"/><text class="t" x="9.5" y="231">ESPL1</text></g>
<g id="label-PLK1"><line class="lb" x1="1183" y1="236" x2="1277" y2="189"/><text class="t" x="1293" y="188">PLK1</text></g>
<g id="label-CHEK1"><line class="lb" x1="1354" y1="628.5" x2="1417" y2="628.5"/><text class="t" x="1427" y="639">CHEK1</text></g>
<g id="label-CDC20"><line class="lb" x1="144" y1="650" x2="212" y2="669"/><text class="t" x="38" y="658">CDC20</text></g>
<g id="label-CDC45"><line class="lb" x1="1332" y1="878.5" x2="1455" y2="878.5"/><text class="t" x="1466" y="891">CDC45</text></g>
<g id="label-ANAPC7"><line class="lb" x1="285" y1="921" x2="411" y2="934"/><text class="t" x="163" y="925">ANAPC7</text></g>
<g id="label-CCNE1"><line class="lb" x1="565" y1="1145" x2="651" y2="1101"/><text class="t" x="455" y="1169">CCNE1</text></g>
<g id="label-CDC6"><line class="lb" x1="1183" y1="1094" x2="1254" y2="1108"/><text class="t" x="1267" y="1118">CDC6</text></g>
</g>
</g>
</svg>
